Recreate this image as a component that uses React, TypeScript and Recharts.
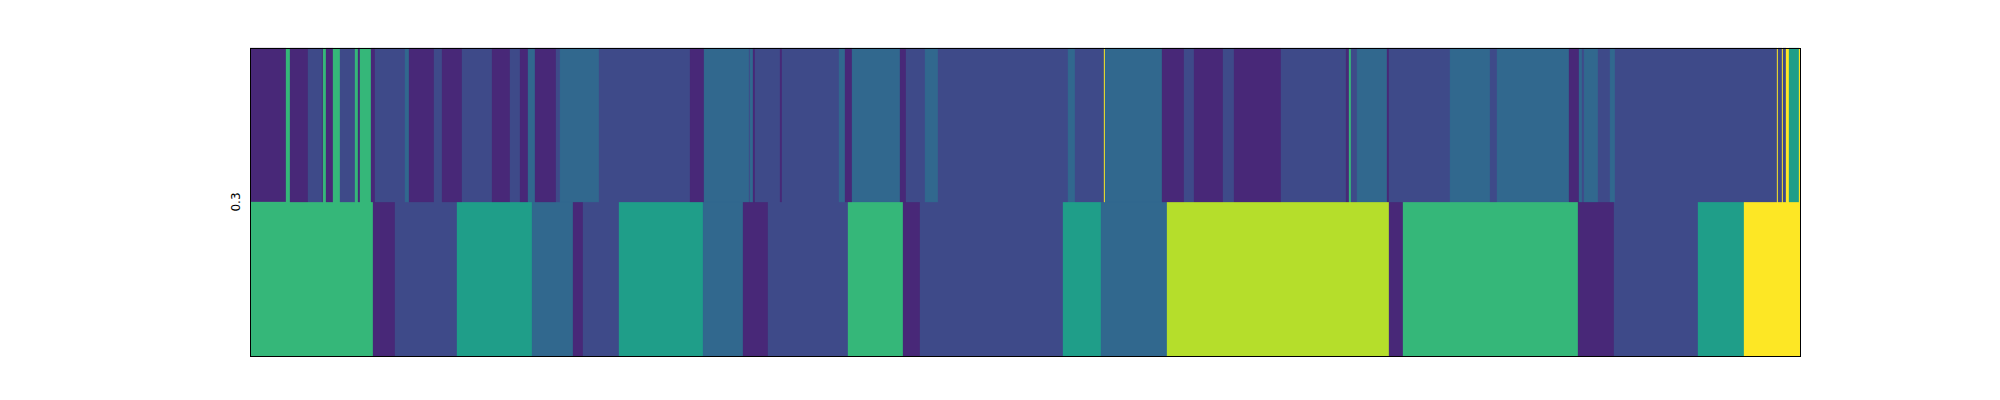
import { BarChart, Bar, Cell, XAxis, YAxis } from "recharts";

// viridis colours for the levels 0..9 (vmin 0, vmax 9)
const VIRIDIS = [
    "#440154",
    "#482878",
    "#3e4a89",
    "#31688e",
    "#26828e",
    "#1f9e89",
    "#35b779",
    "#6ece58",
    "#b5de2b",
    "#fde725",
];

// top row: run lengths along x and the level of each run
const topWidths = [
    36, 4, 18, 14, 1, 3, 7, 7, 15, 3, 2, 11, 4, 30, 4, 25, 8, 20, 30, 18, 10, 8, 7, 21, 4,
    39, 91, 14, 45, 1, 3, 2, 25, 2, 57, 6, 7, 48, 6, 19, 13, 130, 7, 29, 1, 57, 22, 10, 29, 11,
    47, 65, 3, 2, 6, 30, 2, 61, 40, 7, 72, 10, 3, 2, 14, 12, 5, 162, 1, 4, 1, 3, 3, 10, 1,
];
const topLevels = [
    1, 6, 1, 2, 1, 6, 1, 6, 2, 6, 1, 6, 1, 2, 3, 1, 2, 1, 2, 1, 2, 1, 3, 1, 2,
    3, 2, 1, 3, 2, 3, 1, 2, 1, 2, 3, 1, 3, 1, 2, 3, 2, 3, 2, 9, 3, 1, 2, 1, 2,
    1, 2, 1, 6, 2, 3, 1, 2, 3, 2, 3, 1, 3, 2, 3, 2, 3, 2, 9, 2, 9, 2, 9, 5, 9,
];

// bottom row
const bottomWidths = [
    123, 22, 62, 75, 41, 10, 36, 84, 40, 25, 80, 55, 17, 143, 38, 66, 222, 14, 175, 36, 84, 46, 56,
];
const bottomLevels = [6, 1, 2, 5, 3, 1, 2, 5, 3, 1, 2, 6, 1, 2, 5, 3, 8, 1, 6, 1, 2, 5, 9];

const rowNames = ["top", "bottom"];
const yTickLabels = ["0.3"]; // sits on the boundary between the two rows
const xTotal = topWidths.reduce((a, b) => a + b, 0);

const rowWidths = [topWidths, bottomWidths];
const rowLevels = [topLevels, bottomLevels];
const segCount = Math.max(topWidths.length, bottomWidths.length);

const MARGIN = { top: 48, right: 200, bottom: 44, left: 0 };
const CHART_H = 400;
const BAND = (CHART_H - MARGIN.top - MARGIN.bottom) / rowNames.length;

const chartData = rowNames.map((name, r) => {
    const row: Record<string, unknown> = { row: name };
    rowWidths[r].forEach((w, i) => {
        row[`s${i}`] = w;
    });
    return row;
});

// eslint-disable-next-line @typescript-eslint/no-explicit-any
function RowTick({ x, y, index }: any) {
    if (index !== 0) return null;
    const cx = x - 6;
    const cy = y + BAND / 2;
    return (
        <text
            x={cx}
            y={cy}
            transform={`rotate(-90, ${cx}, ${cy})`}
            textAnchor="middle"
            dominantBaseline="central"
            fontSize={12}
            fill="#000"
        >
            {yTickLabels[0]}
        </text>
    );
}

export default function App() {
    return (
        <div style={{ position: "relative", width: 2000, height: 400, fontFamily: "DejaVu Sans" }}>
            <style>{"body{margin:0}"}</style>
            <BarChart
                layout="vertical"
                width={2000}
                height={CHART_H}
                data={chartData}
                margin={MARGIN}
                barCategoryGap={0}
                barGap={0}
            >
                <XAxis
                    type="number"
                    domain={[0, xTotal]}
                    allowDataOverflow
                    height={0}
                    tick={false}
                    tickLine={false}
                    axisLine={false}
                />
                <YAxis
                    type="category"
                    dataKey="row"
                    width={250}
                    tick={<RowTick />}
                    tickLine={false}
                    axisLine={false}
                />
                {Array.from({ length: segCount }, (_, i) => (
                    <Bar key={i} dataKey={`s${i}`} stackId="a" isAnimationActive={false}>
                        {rowNames.map((name, r) => {
                            const lvl = rowLevels[r][i] ?? 0;
                            const c = VIRIDIS[lvl];
                            return <Cell key={name} fill={c} stroke={c} strokeWidth={0.3} />;
                        })}
                    </Bar>
                ))}
            </BarChart>
            {/* axes frame */}
            <div
                style={{
                    position: "absolute",
                    left: 250,
                    top: 48,
                    width: 1551,
                    height: 309,
                    boxSizing: "border-box",
                    border: "1px solid #000",
                    pointerEvents: "none",
                }}
            />
        </div>
    );
}
